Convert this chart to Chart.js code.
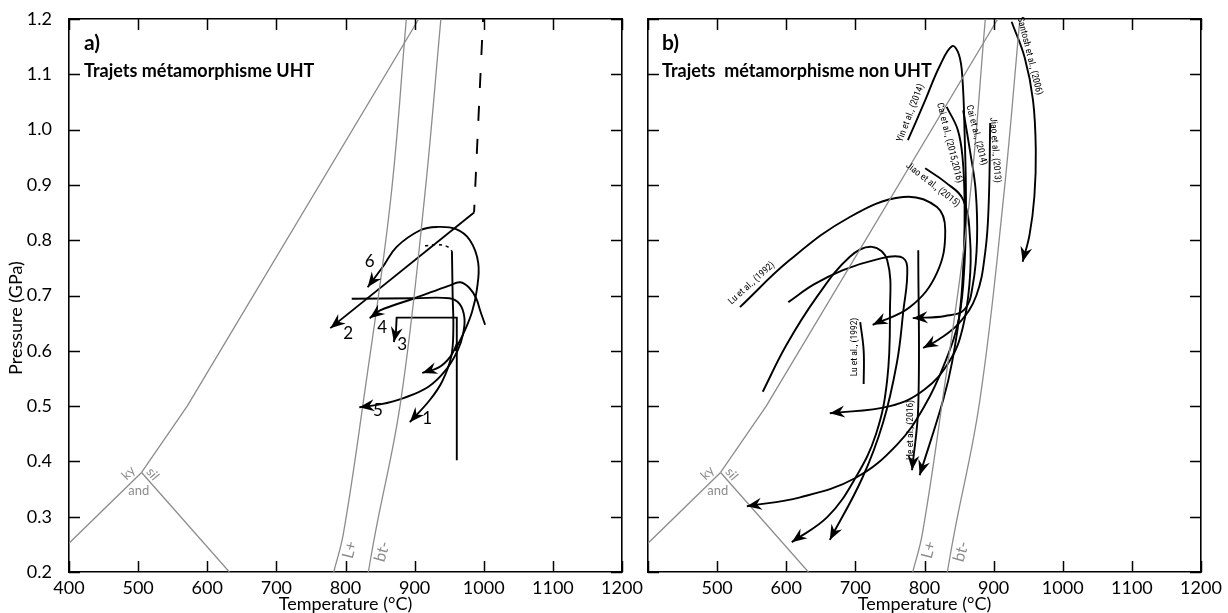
<!DOCTYPE html>
<html><head><meta charset="utf-8">
<script src="https://cdn.jsdelivr.net/npm/chart.js@4.4.0/dist/chart.umd.min.js"></script>
<style>
body{margin:0;background:#fff;width:1228px;height:613px;overflow:hidden;position:relative}
#c1{position:absolute;left:0;top:0}
#c2{position:absolute;left:630px;top:0}
</style></head><body>
<canvas id="c1" width="652" height="613"></canvas>
<canvas id="c2" width="598" height="613"></canvas>
<script>
// ---------- axes ----------
const xTicks = [400,500,600,700,800,900,1000,1100,1200];
const yTicks = [0.2,0.3,0.4,0.5,0.6,0.7,0.8,0.9,1.0,1.1,1.2];

// ---------- phase boundaries (T °C, P GPa) ----------
const kyAnd  = [[400,0.252],[505,0.38]];
const kySil  = [[505,0.38],[571,0.5],[906,1.2]];
const andSil = [[505,0.38],[632,0.2]];
const meltIn = [[783,0.2],[797,0.27],[826,0.51],[865,0.87],[888,1.2]];
const btOut  = [[833,0.2],[843,0.27],[880,0.51],[914,0.873],[938,1.2]];

// ---------- a) UHT paths ----------
const uhtDash  = [[999,1.2],[986,0.85]];
const uht2     = [[986,0.85],[778,0.641]];
const uht6     = [[958,0.60],[972,0.635],[983,0.67],[990,0.71],[992,0.759],[980,0.80],[960,0.82],[932,0.824],[908,0.818],[874,0.788],[854,0.752],[832,0.715]];
const uht4     = [[1002,0.647],[995,0.672],[989,0.695],[979,0.714],[966,0.724],[950,0.718],[900,0.695],[850,0.673],[835,0.659]];
const uht5     = [[809,0.694],[900,0.695],[950,0.695],[965,0.685],[972,0.66],[970,0.63],[962,0.60],[945,0.565],[920,0.535],[885,0.515],[850,0.503],[820,0.498]];
const uhtU     = [[962,0.615],[952,0.59],[935,0.570],[911,0.56]];
const uht1Dash = [[915,0.79],[935,0.792],[948,0.788],[954,0.78]];
const uht1     = [[954,0.78],[955,0.70],[956,0.64],[953,0.59],[940,0.545],[922,0.511],[893,0.471]];
const uht3     = [[961,0.402],[961,0.66],[874,0.66],[873,0.635],[870,0.616]];

// ---------- b) non-UHT paths ----------
const yin2014   = [[776,0.981],[800,1.05],[822,1.115],[840,1.151],[850,1.135],[855,1.09],[858,0.994],[860,0.87],[858,0.76],[850,0.66],[830,0.58],[800,0.5],[760,0.43],[700,0.37],[620,0.335],[543,0.319]];
const cai2015   = [[832,1.041],[848,1.0],[855,0.95],[858,0.87],[857,0.78],[852,0.68],[840,0.58],[827,0.511],[793,0.375]];
const cai2014   = [[856,1.035],[866,0.96],[874,0.89],[876,0.80],[870,0.72],[858,0.675],[830,0.663],[783,0.659]];
const jiao2013  = [[895,1.012],[893,0.87],[888,0.78],[875,0.70],[850,0.65],[820,0.62],[798,0.605]];
const jiao2015  = [[801,0.930],[830,0.905],[856,0.873],[866,0.80],[865,0.72],[855,0.64],[837,0.583],[800,0.53],[750,0.5],[663,0.487]];
const santosh   = [[926,1.195],[945,1.13],[957,1.053],[961,0.963],[959,0.88],[952,0.81],[942,0.761]];
const lu1992a   = [[533,0.679],[605,0.764],[692,0.842],[769,0.878],[818,0.860],[830,0.818],[818,0.741],[779,0.679],[725,0.647]];
const luB       = [[566,0.526],[600,0.61],[644,0.697],[692,0.77],[724,0.788],[746,0.764],[750,0.668],[746,0.547],[730,0.45],[700,0.37],[660,0.30],[608,0.254]];
const luC       = [[603,0.688],[640,0.72],[682,0.746],[730,0.765],[765,0.770],[775,0.752],[769,0.668],[760,0.578],[740,0.47],[710,0.37],[663,0.258]];
const lu1992b   = [[707,0.652],[712,0.60],[712,0.54]];
const he2016    = [[791,0.782],[791,0.5],[782,0.384]];

// ---------- helpers ----------
const GREY = '#8c8c8c';
const pts = a => a.map(p => ({x:p[0], y:p[1]}));
function phaseSets(){
  return [kyAnd,kySil,andSil,meltIn,btOut].map((a,i)=>({
    data:pts(a), borderColor:GREY, borderWidth:1.3, tension:(i>2?0.4:0)
  }));
}
function path(a, opt){
  return Object.assign({data:pts(a), borderColor:'#000', borderWidth:1.9, tension:0.4}, opt||{});
}
function arrowHead(ctx,x,y,dx,dy){
  const l=Math.hypot(dx,dy); const ux=dx/l, uy=dy/l;
  const L=15, W=6, N=10;
  ctx.beginPath();
  ctx.moveTo(x,y);
  ctx.lineTo(x-ux*L-uy*W, y-uy*L+ux*W);
  ctx.lineTo(x-ux*N, y-uy*N);
  ctx.lineTo(x-ux*L+uy*W, y-uy*L-ux*W);
  ctx.closePath(); ctx.fill();
}
const TICK = 11;
const decor = {
  id:'decor',
  afterDatasetsDraw(chart, args, opts){
    const ctx = chart.ctx; ctx.save();
    // inward tick marks on all four sides, from the scales' own ticks
    const ca = chart.chartArea, sx = chart.scales.x, sy = chart.scales.y;
    ctx.strokeStyle = '#000'; ctx.lineWidth = 1.5; ctx.beginPath();
    sx.ticks.forEach(t=>{ const p = Math.round(sx.getPixelForValue(t.value))+0.5;
      ctx.moveTo(p, ca.bottom); ctx.lineTo(p, ca.bottom-TICK);
      ctx.moveTo(p, ca.top); ctx.lineTo(p, ca.top+TICK); });
    sy.ticks.forEach(t=>{ const p = Math.round(sy.getPixelForValue(t.value))+0.5;
      ctx.moveTo(ca.left, p); ctx.lineTo(ca.left+TICK, p);
      ctx.moveTo(ca.right, p); ctx.lineTo(ca.right-TICK, p); });
    ctx.stroke();
    chart.data.datasets.forEach((ds,i)=>{
      if(!ds.arrow) return;
      const el = chart.getDatasetMeta(i).data; const n = el.length;
      const p = el[n-1], q = el[n-2];
      let dx = p.x-(p.cp1x ?? q.x), dy = p.y-(p.cp1y ?? q.y);
      if(Math.hypot(dx,dy)<1){dx=p.x-q.x; dy=p.y-q.y;}
      ctx.fillStyle='#000'; arrowHead(ctx,p.x,p.y,dx,dy);
    });
    (opts.texts||[]).forEach(t=>{
      const x = t.px ? t.x : sx.getPixelForValue(t.x);
      const y = t.px ? t.y : sy.getPixelForValue(t.y);
      ctx.save(); ctx.translate(x,y); ctx.rotate((t.rot||0)*Math.PI/180);
      ctx.font = t.font; ctx.fillStyle = t.color||'#000';
      ctx.textAlign = t.align||'center'; ctx.textBaseline = t.base||'middle';
      ctx.fillText(t.t,0,0); ctx.restore();
    });
    ctx.restore();
  }
};
const FONT = 'Lato, "Open Sans", sans-serif';
function noPad(s){ s.paddingLeft = 0; s.paddingRight = 0; s.paddingTop = 0; s.paddingBottom = 0; }
function scales(showY){
  const grid = {display:true, drawOnChartArea:false, drawTicks:false, color:'rgba(0,0,0,0)'};
  const border = {display:true, color:'#000', width:1.6};
  return {
    x:{type:'linear', position:'bottom', min:400, max:1200,
       afterBuildTicks:s=>{s.ticks = xTicks.map(v=>({value:v}));},
       afterFit:s=>{s.height=41; noPad(s);},
       ticks:{font:{family:FONT,size:18}, color:'#000', padding:5, maxRotation:0, autoSkip:false,
              callback:v=> (!showY && v===400) ? '' : String(v)},
       grid, border,
       title:{display:true, text:'Temperature (°C)', color:'#000', font:{family:FONT,size:18,lineHeight:1}, padding:{top:0,bottom:0}}},
    x2:{type:'linear', position:'top', min:400, max:1200,
       afterBuildTicks:s=>{s.ticks = xTicks.map(v=>({value:v}));},
       afterFit:s=>{s.height=0; noPad(s);}, ticks:{display:false}, grid, border},
    y:{type:'linear', position:'left', min:0.2, max:1.2,
       afterBuildTicks:s=>{s.ticks = yTicks.map(v=>({value:v}));},
       afterFit:s=>{s.width = showY?69:18; noPad(s);},
       ticks:{display:showY, font:{family:FONT,size:18}, color:'#000', padding:17, autoSkip:false, callback:v=>Number(v).toFixed(1)},
       grid, border},
    y2:{type:'linear', position:'right', min:0.2, max:1.2,
       afterBuildTicks:s=>{s.ticks = yTicks.map(v=>({value:v}));},
       afterFit:s=>{s.width=0; noPad(s);}, ticks:{display:false}, grid, border}
  };
}
function phaseTexts(){
  const g = GREY;
  return [
    {t:'ky', x:486, y:0.379, rot:-45, font:'13px '+FONT, color:g},
    {t:'sil', x:521, y:0.377, rot:50, font:'13px '+FONT, color:g},
    {t:'and', x:501, y:0.347, font:'13px '+FONT, color:g},
    {t:'L+', x:806, y:0.24, rot:-76, font:'16px '+FONT, color:g},
    {t:'bt-', x:853, y:0.237, rot:-74, font:'16px '+FONT, color:g}
  ];
}
function baseOpts(showY, texts, pad){
  return {
    type:'scatter',
    options:{
      responsive:false, animation:false, devicePixelRatio:1,
      layout:{padding:pad},
      elements:{point:{radius:0, hoverRadius:0}, line:{fill:false, capBezierPoints:true}},
      plugins:{legend:{display:false}, tooltip:{enabled:false}, decor:{texts}},
      scales:scales(showY)
    },
    plugins:[decor]
  };
}
const sl = {showLine:true};

// ---------- chart a ----------
const cfgA = baseOpts(true, phaseTexts().concat([
  {t:'Pressure (GPa)', x:16, y:318, px:true, rot:-90, font:'18px '+FONT},
  {t:'a)', x:84, y:50, px:true, font:'bold 21px '+FONT, align:'left', base:'alphabetic'},
  {t:'Trajets métamorphisme UHT', x:84, y:77, px:true, font:'bold 18px '+FONT, align:'left', base:'alphabetic'},
  {t:'1', x:918, y:0.478, font:'17px '+FONT},
  {t:'2', x:804, y:0.632, font:'17px '+FONT},
  {t:'3', x:882, y:0.612, font:'17px '+FONT},
  {t:'4', x:853, y:0.643, font:'17px '+FONT},
  {t:'5', x:847, y:0.492, font:'17px '+FONT},
  {t:'6', x:835, y:0.761, font:'17px '+FONT}
]), {left:0, right:30, top:19, bottom:0});
cfgA.data = {datasets: phaseSets().concat([
  path(uhtDash,{tension:0, borderDash:[15,18], borderDashOffset:12}),
  path(uht2,{tension:0, arrow:true}),
  path(uht6,{arrow:true}),
  path(uht4,{arrow:true}),
  path(uht5,{arrow:true}),
  path(uhtU,{arrow:true}),
  path(uht1Dash,{borderDash:[3,4], borderWidth:1.5}),
  path(uht1,{arrow:true}),
  path(uht3,{tension:0, arrow:true})
]).map(d=>Object.assign(d,sl))};
new Chart(document.getElementById('c1'), cfgA);

// ---------- chart b ----------
const REF = '9.5px "Liberation Sans Narrow", "Roboto Condensed", Roboto, sans-serif';
const cfgB = baseOpts(false, phaseTexts().concat([
  {t:'b)', x:32, y:50, px:true, font:'bold 21px '+FONT, align:'left', base:'alphabetic'},
  {t:'Trajets  métamorphisme non UHT', x:32, y:77, px:true, font:'bold 18px '+FONT, align:'left', base:'alphabetic'},
  {t:'Yin et al., (2014)', x:780, y:1.03, rot:-69, font:REF},
  {t:'Cai et al., (2015,2016)', x:836, y:0.976, rot:76, font:REF},
  {t:'Cai et al., (2014)', x:875, y:0.99, rot:76, font:REF},
  {t:'Jiao et al., (2013)', x:902, y:0.963, rot:86, font:REF},
  {t:'Santosh et al., (2006)', x:952, y:1.133, rot:76, font:REF},
  {t:'Jiao et al., (2015)', x:812, y:0.9, rot:38, font:REF},
  {t:'Lu et al., (1992)', x:550, y:0.722, rot:-42, font:REF},
  {t:'Lu et al., (1992)', x:699, y:0.607, rot:-90, font:REF},
  {t:'He et al., (2016)', x:780, y:0.457, rot:-90, font:REF}
]), {left:0, right:27, top:19, bottom:0});
cfgB.data = {datasets: phaseSets().concat([
  path(yin2014,{arrow:true}),
  path(cai2015,{arrow:true}),
  path(cai2014,{arrow:true}),
  path(jiao2013,{arrow:true}),
  path(jiao2015,{arrow:true}),
  path(santosh,{arrow:true}),
  path(lu1992a,{arrow:true}),
  path(luB,{arrow:true}),
  path(luC,{arrow:true}),
  path(lu1992b,{}),
  path(he2016,{arrow:true})
]).map(d=>Object.assign(d,sl))};
new Chart(document.getElementById('c2'), cfgB);
</script></body></html>
